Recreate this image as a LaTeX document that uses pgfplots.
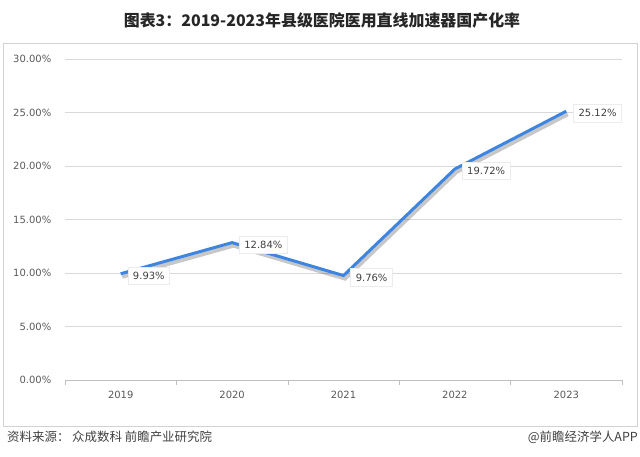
\documentclass[border=0pt]{standalone}
\usepackage{pgfplots}
\pgfplotsset{compat=1.18}
\usepackage{fontspec}
\setmainfont{DejaVu Sans}
\newfontfamily\cjk{Noto Sans CJK SC}
\definecolor{lineblue}{RGB}{61,133,224}
\definecolor{txt}{RGB}{89,89,89}
\begin{document}
\begin{tikzpicture}
\path[use as bounding box] (-65bp,-77bp) rectangle (575bp,380bp);
\draw[gray!35, line width=0.8bp] (-62bp,-46bp) rectangle (572bp,337bp);
\node[font=\cjk\bfseries\fontsize{16}{19}\selectfont, text=black!85] at (257bp,360bp) {图表3：2019-2023年县级医院医用直线加速器国产化率};
\node[anchor=west, inner sep=0pt, font=\cjk\fontsize{12.5}{15}\selectfont, text=black!75] at (-58bp,-57bp) {资料来源： 众成数科 前瞻产业研究院};
\node[anchor=east, inner sep=0pt, font=\cjk\fontsize{12.5}{15}\selectfont, text=black!75] at (573bp,-57bp) {@前瞻经济学人APP};
\begin{axis}[
  at={(0,0)}, anchor=south west,
  width=557bp, height=321bp, scale only axis,
  xmin=-0.5, xmax=4.5, ymin=0, ymax=30,
  xtick={0,1,2,3,4}, xticklabels={2019,2020,2021,2022,2023},
  minor xtick={-0.5,0.5,1.5,2.5,3.5,4.5},
  ytick={0,5,10,15,20,25,30},
  yticklabel={\pgfmathprintnumber[fixed,fixed zerofill,precision=2]{\tick}\%},
  axis x line*=bottom, axis y line*=left,
  x axis line style={gray!50, -},
  y axis line style={draw=none},
  ymajorgrids, grid style={gray!30, line width=0.8bp},
  major x tick style={draw=none},
  minor x tick style={gray!50},
  minor tick length=5bp,
  tick align=outside,
  ytick style={draw=none},
  /pgf/number format/assume math mode=true,
  tick label style={font=\fontsize{10}{12}\selectfont, text=txt},
  yticklabel style={xshift=-6bp},
  xticklabel style={yshift=-3bp},
  clip=false,
]
\addplot[black, opacity=0.22, line width=4bp, xshift=1.5bp, yshift=-3bp] coordinates {(0,9.93) (1,12.84) (2,9.76) (3,19.72) (4,25.12)};
\addplot[lineblue, line width=3bp,
  nodes near coords={\pgfmathprintnumber[fixed,fixed zerofill,precision=2]{\pgfplotspointmeta}\%},
  every node near coord/.append style={anchor=west, xshift=7bp, yshift=-2bp, fill=white, draw=gray!15, line width=0.6bp, text=black!75, font=\fontsize{10}{12}\selectfont, inner xsep=5bp, inner ysep=5bp, /pgf/number format/assume math mode=true}
] coordinates {(0,9.93) (1,12.84) (2,9.76) (3,19.72) (4,25.12)};
\end{axis}
\end{tikzpicture}
\end{document}
